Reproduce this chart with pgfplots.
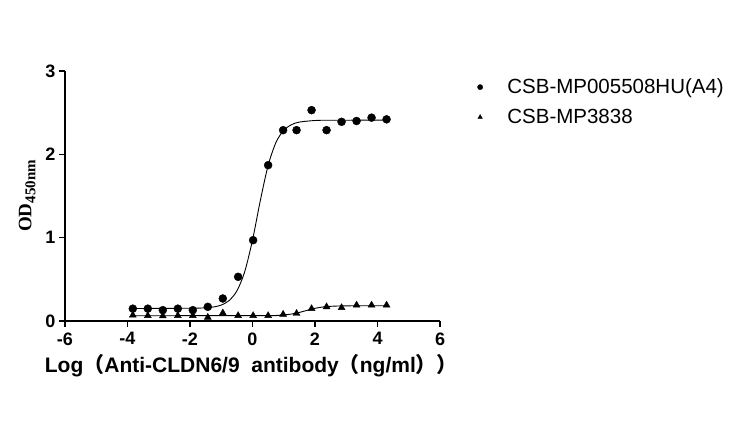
\documentclass[border=0pt]{standalone}
\usepackage{pgfplots}
\pgfplotsset{compat=1.18}
\usepackage{fontspec}
\setmainfont{Liberation Sans}
\newfontfamily\seriffont{Liberation Serif}
\newfontfamily\cjk{Noto Sans CJK SC}
\begin{document}
\begin{tikzpicture}[x=1pt,y=1pt]
\useasboundingbox (0,0) rectangle (746,430);
\begin{axis}[
  at={(65pt,109pt)}, anchor=south west,
  scale only axis, width=375pt, height=250pt,
  xmin=-6, xmax=6, ymin=0, ymax=3,
  axis x line*=bottom, axis y line*=left,
  axis line style={-, line width=1.8pt},
  xtick={-6,-4,-2,0,2,4,6}, ytick={0,1,2,3},
  tick align=outside, major tick length=6pt,
  tick style={line width=1.5pt, black},
  /pgf/number format/assume math mode=true,
  ticklabel style={font=\fontsize{18}{20}\selectfont\bfseries},
  xticklabel style={yshift=-2pt},
  xlabel={Log{\cjk （}Anti-CLDN6/9\ \ antibody{\cjk （}ng/ml{\cjk ）}{\cjk ）}},
  x label style={at={(axis description cs:0.497,-0.18)}, anchor=center, font=\fontsize{21}{24}\selectfont\bfseries},
  ylabel={{\seriffont\bfseries\fontsize{19}{22}\selectfont OD\raisebox{-4pt}{\fontsize{15}{17}\selectfont 450nm}}},
  y label style={at={(axis description cs:-0.101,0.5)}, anchor=center},
  legend style={draw=none, fill=none, at={(axis description cs:1.09,0.985)}, anchor=north west,
    font=\fontsize{20.5}{24}\selectfont, row sep=10pt},
  legend cell align=left,
  legend image code/.code={\path (-3pt,0pt) (25pt,0pt); \draw[#1, mark size=2.6pt] plot coordinates {(0pt,0pt)};},
  clip=false,
]
\addplot[black, only marks, mark=*, mark size=4pt] coordinates {
(-3.83,0.148) (-3.35,0.148) (-2.87,0.13) (-2.39,0.148) (-1.91,0.13) (-1.43,0.17)
(-0.95,0.27) (-0.46,0.53) (0.02,0.97) (0.50,1.87) (0.98,2.29) (1.41,2.29)
(1.89,2.53) (2.37,2.29) (2.85,2.39) (3.33,2.40) (3.81,2.44) (4.29,2.42)};
\addlegendentry{CSB-MP005508HU(A4)}
\addplot[black, only marks, mark=triangle*, mark size=4pt] coordinates {
(-3.83,0.07) (-3.35,0.064) (-2.87,0.06) (-2.39,0.064) (-1.91,0.064) (-1.43,0.044)
(-0.95,0.096) (-0.46,0.064) (0.02,0.064) (0.50,0.064) (0.98,0.08) (1.41,0.09)
(1.89,0.148) (2.37,0.17) (2.85,0.16) (3.33,0.19) (3.81,0.19) (4.29,0.19)};
\addlegendentry{CSB-MP3838}
\addplot[black, line width=0.9pt, smooth, forget plot] coordinates {
(-3.83,0.150) (-2.0,0.153) (-1.5,0.158) (-1.25,0.168) (-1.0,0.191) (-0.75,0.245)
(-0.5,0.361) (-0.25,0.591) (0.0,0.971) (0.25,1.445) (0.5,1.866) (0.75,2.142)
(1.0,2.288) (1.25,2.356) (1.5,2.387) (2.0,2.406) (2.5,2.409) (4.29,2.410)};
\addplot[black, line width=0.9pt, smooth, forget plot] coordinates {
(-3.83,0.063) (0.5,0.065) (0.75,0.067) (1.0,0.0725) (1.25,0.0836) (1.5,0.103)
(1.75,0.128) (2.0,0.152) (2.25,0.168) (2.5,0.176) (3.0,0.182) (4.29,0.183)};
\end{axis}
\end{tikzpicture}
\end{document}
